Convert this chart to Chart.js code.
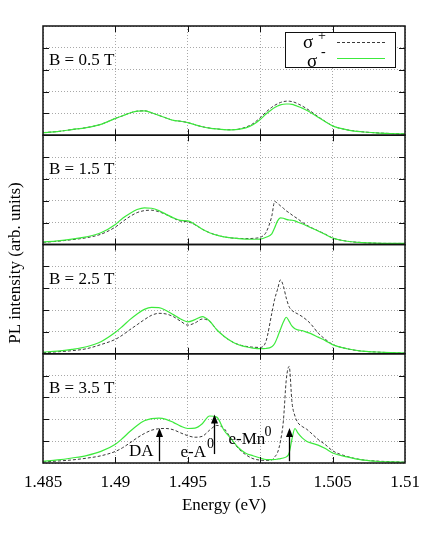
<!DOCTYPE html>
<html>
<head>
<meta charset="utf-8">
<script src="https://cdn.jsdelivr.net/npm/chart.js@4.4.0/dist/chart.umd.min.js"></script>
<style>
  html, body { margin: 0; padding: 0; background: #fff; }
</style>
</head>
<body>
<canvas id="pl-chart" width="436" height="546"></canvas>
<script>
// photon energy (eV), shared by every curve
const energy = [1.485, 1.486, 1.487, 1.488, 1.489, 1.490, 1.4905, 1.491, 1.4915, 1.492,
  1.4925, 1.493, 1.4935, 1.494, 1.4945, 1.495, 1.4955, 1.496, 1.4965, 1.497,
  1.4975, 1.498, 1.4985, 1.499, 1.4995, 1.500, 1.5004, 1.5008, 1.5010, 1.5012,
  1.5014, 1.5016, 1.5018, 1.5020, 1.5022, 1.5024, 1.5026, 1.5029, 1.5032, 1.5035,
  1.504, 1.5045, 1.505, 1.506, 1.507, 1.508, 1.509, 1.510];

// PL intensity, sigma+ (dashed) and sigma- (green), one pair per field
const plusB05 = [0.12, 0.17, 0.26, 0.35, 0.5, 0.77, 0.89, 1.02, 1.1, 1.12,
  1.03, 0.91, 0.79, 0.68, 0.64, 0.58, 0.48, 0.39, 0.33, 0.29,
  0.26, 0.25, 0.28, 0.37, 0.53, 0.8, 1.06, 1.28, 1.37, 1.44,
  1.5, 1.54, 1.56, 1.56, 1.54, 1.5, 1.44, 1.34, 1.22, 1.09,
  0.85, 0.63, 0.43, 0.25, 0.16, 0.11, 0.08, 0.06];
const minusB05 = [0.12, 0.17, 0.26, 0.35, 0.5, 0.77, 0.89, 1.02, 1.1, 1.12,
  1.03, 0.91, 0.79, 0.68, 0.64, 0.58, 0.48, 0.39, 0.33, 0.29,
  0.26, 0.25, 0.27, 0.34, 0.48, 0.72, 0.97, 1.18, 1.27, 1.34,
  1.39, 1.42, 1.43, 1.43, 1.41, 1.37, 1.32, 1.24, 1.14, 1.03,
  0.82, 0.62, 0.43, 0.25, 0.16, 0.11, 0.08, 0.06];

const plusB15 = [0.1, 0.15, 0.22, 0.31, 0.47, 0.8, 1.05, 1.28, 1.46, 1.55,
  1.57, 1.5, 1.37, 1.21, 1.07, 1.04, 0.9, 0.7, 0.54, 0.43,
  0.35, 0.3, 0.28, 0.27, 0.28, 0.33, 0.55, 1.3, 1.97, 1.88,
  1.77, 1.66, 1.54, 1.45, 1.35, 1.26, 1.17, 1.02, 0.89, 0.78,
  0.63, 0.47, 0.3, 0.15, 0.09, 0.06, 0.05, 0.05];
const minusB15 = [0.11, 0.17, 0.25, 0.35, 0.54, 0.92, 1.2, 1.42, 1.6, 1.68,
  1.66, 1.55, 1.38, 1.22, 1.1, 1.08, 0.92, 0.7, 0.54, 0.43,
  0.35, 0.3, 0.27, 0.25, 0.24, 0.25, 0.33, 0.49, 0.77, 1.08,
  1.22, 1.2, 1.15, 1.12, 1.11, 1.08, 1.02, 0.95, 0.86, 0.77,
  0.62, 0.46, 0.3, 0.15, 0.09, 0.06, 0.05, 0.05];

const plusB25 = [0.05, 0.09, 0.14, 0.23, 0.42, 0.66, 0.86, 1.1, 1.33, 1.56,
  1.76, 1.85, 1.82, 1.7, 1.49, 1.31, 1.41, 1.59, 1.49, 1.1,
  0.8, 0.57, 0.42, 0.34, 0.3, 0.29, 0.57, 1.85, 2.5, 2.95,
  3.38, 3.1, 2.55, 2.15, 1.98, 1.89, 1.82, 1.7, 1.55, 1.36,
  0.95, 0.66, 0.43, 0.23, 0.12, 0.08, 0.05, 0.03];
const minusB25 = [0.08, 0.12, 0.2, 0.32, 0.55, 0.98, 1.26, 1.56, 1.82, 2.03,
  2.12, 2.11, 1.98, 1.79, 1.59, 1.46, 1.56, 1.7, 1.5, 1.1,
  0.8, 0.57, 0.41, 0.32, 0.26, 0.23, 0.24, 0.32, 0.47, 0.77,
  1.12, 1.45, 1.67, 1.48, 1.26, 1.14, 1.09, 1.06, 0.99, 0.92,
  0.76, 0.6, 0.42, 0.23, 0.12, 0.08, 0.05, 0.03];

const plusB35 = [0.05, 0.09, 0.14, 0.22, 0.33, 0.53, 0.7, 0.92, 1.15, 1.35,
  1.5, 1.57, 1.58, 1.52, 1.38, 1.25, 1.18, 1.22, 1.5, 1.72,
  1.58, 1.1, 0.66, 0.38, 0.2, 0.13, 0.12, 0.14, 0.28, 0.48,
  1.0, 1.92, 3.8, 4.42, 2.75, 2.15, 1.85, 1.67, 1.55, 1.38,
  1.08, 0.84, 0.56, 0.3, 0.15, 0.09, 0.06, 0.04];
const minusB35 = [0.08, 0.14, 0.23, 0.34, 0.53, 0.86, 1.13, 1.44, 1.72, 1.93,
  2.03, 2.05, 2.0, 1.86, 1.69, 1.58, 1.6, 1.8, 2.15, 2.1,
  1.5, 1.1, 0.7, 0.45, 0.33, 0.23, 0.16, 0.15, 0.16, 0.18,
  0.2, 0.23, 0.28, 0.46, 1.12, 1.58, 1.38, 1.15, 1.0, 0.92,
  0.82, 0.66, 0.46, 0.28, 0.14, 0.08, 0.05, 0.03];

const fields = ['0.5', '1.5', '2.5', '3.5'];
const plusSeries = [plusB05, plusB15, plusB25, plusB35];
const minusSeries = [minusB05, minusB15, minusB25, minusB35];

const xTicks = [1.485, 1.49, 1.495, 1.5, 1.505, 1.51];
const yTicks = [0, 1, 2, 3, 4, 5];

// arrows in the B = 3.5 T panel
const arrowLabels = ['DA', 'e-A', 'e-Mn'];
const arrowEnergy = [1.4930, 1.4968, 1.5020];
const arrowBase = [0.08, 0.41, 0.08];
const arrowTip = [1.6, 2.22, 1.6];

const FONT = 'Liberation Serif, Times New Roman, serif';
const GREEN = '#3cea3c';
const DARK = '#3a3a3a';
const GRID = '#a8a8a8';
const panelIds = ['y1', 'y2', 'y3', 'y4'];

function panelAxis(weight) {
  return {
    type: 'linear',
    position: 'left',
    stack: 'panels',
    stackWeight: 1,
    weight: weight,
    min: 0,
    max: 5,
    afterBuildTicks: s => { s.ticks = yTicks.map(v => ({ value: v })); },
    ticks: { display: false },
    grid: { color: GRID, drawTicks: false },
    border: { display: false, dash: [1, 2] },
    afterFit: s => { s.width = 43; }
  };
}

const datasets = [];
panelIds.forEach((id, i) => {
  datasets.push({
    label: 'sigma- ' + fields[i],
    data: energy.map((e, k) => ({ x: e, y: minusSeries[i][k] })),
    yAxisID: id,
    borderColor: GREEN,
    borderWidth: 1.2,
    pointRadius: 0,
    cubicInterpolationMode: 'monotone',
    order: 0
  });
  datasets.push({
    label: 'sigma+ ' + fields[i],
    data: energy.map((e, k) => ({ x: e, y: plusSeries[i][k] })),
    yAxisID: id,
    borderColor: DARK,
    borderWidth: 1,
    borderDash: [3, 2],
    pointRadius: 0,
    cubicInterpolationMode: 'monotone',
    order: 1
  });
});

const scales = {
  x: {
    type: 'linear',
    min: 1.485,
    max: 1.51,
    afterBuildTicks: s => { s.ticks = xTicks.map(v => ({ value: v })); },
    ticks: {
      callback: v => String(+v.toFixed(3)),
      font: { family: FONT, size: 17 },
      color: '#000',
      padding: 9,
      maxRotation: 0,
      autoSkip: false
    },
    grid: { color: GRID, drawTicks: false },
    border: { display: false, dash: [1, 2] },
    title: {
      display: true,
      text: 'Energy (eV)',
      font: { family: FONT, size: 17 },
      color: '#000',
      padding: { top: 0, bottom: 30 }
    },
    afterFit: s => { s.height = 83; }
  }
};
panelIds.forEach((id, i) => { scales[id] = panelAxis(panelIds.length - i); });

function sup(ctx, text, x, y) {
  ctx.font = '14px ' + FONT;
  ctx.textAlign = 'left';
  ctx.fillText(text, x, y);
}

const framePlugin = {
  id: 'frames',
  afterDatasetsDraw(chart) {
    const { ctx, chartArea, scales } = chart;
    const xs = scales.x;
    const left = chartArea.left, right = chartArea.right;
    ctx.save();
    ctx.strokeStyle = '#111';
    panelIds.forEach(id => {
      const s = scales[id];
      ctx.lineWidth = 1;
      ctx.beginPath();
      yTicks.slice(1, -1).forEach(v => {
        const py = Math.round(s.getPixelForValue(v)) + 0.5;
        ctx.moveTo(left, py); ctx.lineTo(left + 6, py);
        ctx.moveTo(right, py); ctx.lineTo(right - 6, py);
      });
      xTicks.slice(1, -1).forEach(v => {
        const px = Math.round(xs.getPixelForValue(v)) + 0.5;
        ctx.moveTo(px, s.top); ctx.lineTo(px, s.top + 6);
        ctx.moveTo(px, s.bottom); ctx.lineTo(px, s.bottom - 6);
      });
      ctx.stroke();
      ctx.lineWidth = 1.5;
      ctx.strokeRect(left, s.top, right - left, s.bottom - s.top);
    });
    ctx.restore();
  },
  afterDraw(chart) {
    const { ctx, chartArea, scales } = chart;
    const xs = scales.x;
    ctx.save();
    ctx.fillStyle = '#000';
    ctx.textBaseline = 'alphabetic';

    // panel labels
    ctx.font = '17px ' + FONT;
    ctx.textAlign = 'left';
    panelIds.forEach((id, i) => {
      ctx.fillText('B = ' + fields[i] + ' T', chartArea.left + 6, scales[id].top + 39);
    });

    // y title
    ctx.save();
    ctx.translate(16, 263);
    ctx.rotate(-Math.PI / 2);
    ctx.textAlign = 'center';
    ctx.textBaseline = 'middle';
    ctx.fillText('PL intensity (arb. units)', 0, 0);
    ctx.restore();

    // legend
    const bx = chartArea.right - 120, by = chartArea.top + 6;
    ctx.fillStyle = '#fff';
    ctx.fillRect(bx, by, 111, 35);
    ctx.strokeStyle = '#111';
    ctx.lineWidth = 1;
    ctx.strokeRect(bx + 0.5, by + 0.5, 110, 35);
    ctx.fillStyle = '#000';
    ctx.font = '19px ' + FONT;
    ctx.fillText('σ', bx + 18, by + 16);
    ctx.fillText('σ', bx + 22, by + 35);
    sup(ctx, '+', bx + 33, by + 8);
    sup(ctx, '-', bx + 36, by + 24);
    ctx.lineWidth = 1;
    ctx.strokeStyle = DARK;
    ctx.setLineDash([3, 2]);
    ctx.beginPath(); ctx.moveTo(bx + 52, by + 10.5); ctx.lineTo(bx + 100, by + 10.5); ctx.stroke();
    ctx.setLineDash([]);
    ctx.strokeStyle = GREEN;
    ctx.lineWidth = 1.2;
    ctx.beginPath(); ctx.moveTo(bx + 52, by + 26.5); ctx.lineTo(bx + 100, by + 26.5); ctx.stroke();

    // arrows and labels in the last panel
    const ys = scales.y4;
    ctx.strokeStyle = '#000';
    ctx.fillStyle = '#000';
    ctx.lineWidth = 1.3;
    const ax = arrowEnergy.map(e => Math.round(xs.getPixelForValue(e)) + 0.5);
    arrowEnergy.forEach((e, i) => {
      const y0 = ys.getPixelForValue(arrowBase[i]);
      const y1 = ys.getPixelForValue(arrowTip[i]);
      ctx.beginPath(); ctx.moveTo(ax[i], y0); ctx.lineTo(ax[i], y1 + 6); ctx.stroke();
      ctx.beginPath();
      ctx.moveTo(ax[i], y1);
      ctx.lineTo(ax[i] - 3.5, y1 + 9);
      ctx.lineTo(ax[i] + 3.5, y1 + 9);
      ctx.closePath();
      ctx.fill();
    });
    const bottom = ys.bottom;
    ctx.font = '17px ' + FONT;
    ctx.textAlign = 'right';
    ctx.fillText(arrowLabels[0], ax[0] - 6, bottom - 7);
    ctx.textAlign = 'left';
    ctx.fillText(arrowLabels[1], ax[1] - 34, bottom - 6);
    sup(ctx, '0', ax[1] - 7.5, bottom - 15);
    ctx.font = '17px ' + FONT;
    ctx.fillText(arrowLabels[2], ax[2] - 61, bottom - 19);
    sup(ctx, '0', ax[2] - 25, bottom - 27);
    ctx.restore();
  }
};

new Chart(document.getElementById('pl-chart'), {
  type: 'line',
  data: { datasets: datasets },
  options: {
    responsive: false,
    animation: false,
    layout: { padding: { left: 0, top: 26, right: 31, bottom: 0 } },
    scales: scales,
    plugins: {
      legend: { display: false },
      tooltip: { enabled: false }
    }
  },
  plugins: [framePlugin]
});
</script>
</body>
</html>
